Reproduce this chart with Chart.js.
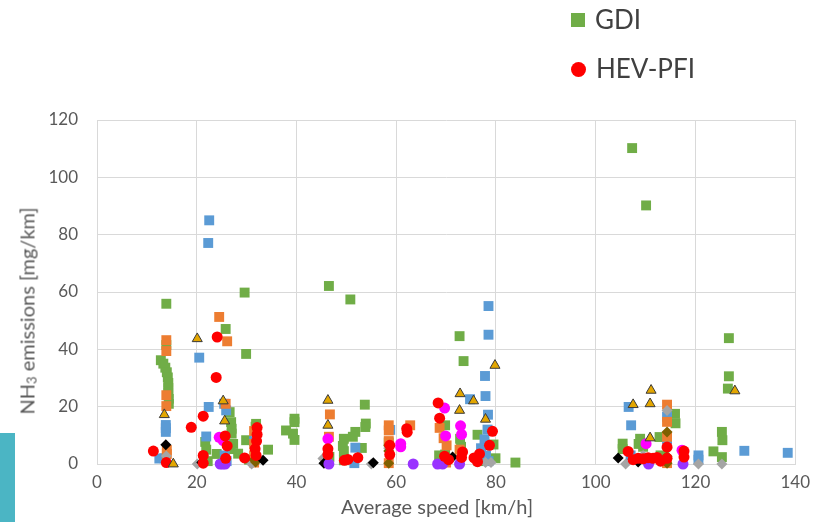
<!DOCTYPE html>
<html>
<head>
<meta charset="utf-8">
<script src="https://cdn.jsdelivr.net/npm/chart.js@4.4.1/dist/chart.umd.min.js"></script>
<style>
  html, body { margin: 0; padding: 0; background: #fff; }
  #wrap { position: relative; width: 818px; height: 522px; overflow: hidden; font-family: Lato, sans-serif; }
  #chart { position: absolute; left: 0; top: 0; }
  .leg { position: absolute; left: 571px; font-size: 26px; color: #404040; line-height: 30px; }
  .leg i { display: inline-block; vertical-align: middle; margin-right: 10px; position: relative; top: -2px; }
  .xt { position: absolute; left: 0; width: 874px; top: 494px; text-align: center; font-size: 20px; color: #595959; }
  .yt { position: absolute; left: 27px; top: 311px; transform: translate(-50%, -50%) rotate(-90deg); white-space: nowrap; font-size: 20px; color: #595959; }
  .yt sub { font-size: 13px; vertical-align: -2px; }
  #tab { position: absolute; left: 0; top: 433px; width: 15px; height: 89px; background: #4bb5c4; }
</style>
</head>
<body>
<div id="wrap">
  <canvas id="chart" width="818" height="522"></canvas>
  <div class="leg" style="top:4px"><i style="width:14px;height:14px;background:#70ad47"></i>GDI</div>
  <div class="leg" style="top:53px"><i style="width:15px;height:15px;border-radius:50%;background:#ff0000"></i>HEV-PFI</div>
  <div class="yt">NH<sub>3</sub> emissions [mg/km]</div>
  <div class="xt">Average speed [km/h]</div>
  <div id="tab"></div>
</div>
<script>
// [speed km/h, NH3 mg/km]
const gdi = [
  [13.9, 55.9], [13.9, 41.5], [12.8, 36.2], [13.3, 35], [13.7, 33.6], [14.0, 32], [14.2, 30.2], [14.3, 28.3],
  [14.3, 26.5], [14.3, 24.8], [14.4, 22.8], [14.4, 21],
  [29.6, 59.8], [25.8, 47.1], [29.9, 38.4], [26.6, 18.1], [26.9, 14.6], [27.0, 12.3], [27.0, 10.6], [27.3, 7.0],
  [26.8, 5.2], [28.3, 3.6], [29.9, 8.3], [21.7, 7.7], [21.9, 5], [22.2, 1], [24.0, 3.5], [31.9, 14.0], [31.8, 13.0],
  [34.3, 5.0], [30.5, 1.5],
  [39.6, 15.8], [39.6, 14.6], [37.9, 11.7], [39.3, 10.6], [39.6, 8.4],
  [46.5, 62.1], [50.8, 57.4], [53.7, 20.7], [53.9, 14.1], [53.8, 12.9], [51.8, 11.2], [51.3, 9.5], [49.5, 8.8],
  [49.3, 6.3], [49.5, 4.5], [49.5, 1.3], [53.1, 5.6], [46.6, 2.5], [58.5, 7.5],
  [72.7, 44.6], [73.5, 35.9], [69.8, 13.5], [72.8, 8.8], [76.3, 10.2], [79.5, 6.8], [68.6, 3.0], [69.8, 3.3],
  [79.9, 2.0], [83.9, 0.5], [73, 6], [76.5, 1],
  [107.3, 110.2], [110.1, 90.2], [115.9, 17.5], [116.0, 14.2], [112.8, 9.4], [108.9, 8.8], [108.6, 7.0],
  [105.4, 7.1], [105.4, 5.2], [109.5, 6], [113, 3],
  [126.7, 43.9], [126.7, 30.6], [126.5, 26.3], [125.3, 11.2], [125.4, 8.3], [123.6, 4.4], [125.3, 2.4]
];
const hevPfi = [
  [11.3, 4.5], [13.9, 0.5], [24.1, 44.3], [23.9, 30.2], [21.3, 16.7], [18.9, 12.8], [25.7, 9.8], [26.1, 6.3],
  [21.3, 3.0], [21.3, 0.3], [25.8, 2.0], [29.6, 2.1], [32.1, 12.7], [32.1, 10.3], [32.0, 8.0], [31.7, 5.3], [31.9, 3],
  [46.3, 5.3], [46.3, 3.3], [49.6, 1.3], [50.3, 1.6], [52.3, 2.2], [58.7, 6.5], [58.7, 3.3], [62.1, 12.3], [62.2, 11.1],
  [68.4, 21.3], [68.7, 16.0], [79.3, 11.4], [78.7, 6.5], [69.7, 2.7], [73.3, 4.2], [73.1, 2.3], [75.6, 2.1],
  [76.7, 3.5], [76.3, 0.8], [70.5, 1.5],
  [106.5, 4.4], [107.5, 1.5], [108.5, 2.0], [109.5, 1.8], [110.5, 2.2], [111.5, 2.0], [112.3, 2.3], [114.3, 5.9],
  [114.3, 2.0], [117.7, 4.5], [117.7, 2.4], [113, 1]
];
const blueSeries = [
  [13.8, 13.6], [13.8, 12.5], [13.8, 11.2], [12.5, 1.9], [13.5, 2.0], [22.5, 85.0], [22.3, 77.1], [20.5, 37.1],
  [22.4, 19.9], [25.5, 21.0], [25.9, 18.7], [21.9, 9.6], [25.6, 3.0], [26, 1], [31.5, 8],
  [51.8, 5.7], [51.6, 0.3], [58.8, 11.9],
  [78.5, 55.1], [78.5, 45.1], [77.8, 30.7], [77.9, 23.7], [74.8, 22.6], [78.4, 17.2], [78.3, 12.0], [77.7, 8.6],
  [77.0, 5.5], [78, 3], [78.5, 1],
  [106.6, 19.9], [107.1, 13.5], [114.3, 16.5], [114.3, 8.5], [120.6, 3.0], [120.6, 1.5], [107, 3],
  [129.8, 4.6], [138.5, 3.9]
];
const orangeSeries = [
  [13.9, 43.2], [13.9, 39.4], [13.9, 24.0], [13.9, 20.2], [14, 4.9], [14, 3.5], [24.5, 51.3], [26.1, 42.8],
  [25.8, 21], [31.5, 11.5], [31.5, 7], [31.5, 3], [31.5, 0.5],
  [46.7, 17.3], [46.5, 9.5], [58.5, 13.5], [58.5, 11.7], [58.5, 8], [58.5, 0.3], [62.8, 13.5],
  [68.7, 12.6], [70.1, 6.5], [72.7, 5.0], [69.5, 9], [70, 0.5],
  [114.3, 20.7], [114.3, 14.7], [114.3, 9.5], [114.3, 0.3]
];
const triangleSeries = [
  [13.5, 17.2], [15.3, 0], [20.1, 43.7], [25.3, 22.0], [25.6, 15.0], [46.3, 22.2], [46.3, 13.5], [72.8, 24.5],
  [75.5, 22.0], [72.7, 18.7], [79.8, 34.4], [77.9, 15.6], [111.1, 25.7], [107.5, 20.7], [110.9, 21.0],
  [110.9, 9.1], [127.9, 25.5]
];
const blackDiamonds = [[13.8, 6.7], [21, 0.5], [33.3, 1.3], [45.5, 0.3], [55.4, 0.4], [71.3, 2.4], [104.5, 2.1], [108.5, 0.7]];
const grayDiamonds = [
  [13.9, 2.8], [20.1, 0], [31, 0], [45.3, 1.9], [55, 0], [58.5, 5.5], [77.9, 0.5], [79, 0.5], [106, 0],
  [109.5, 3], [114.3, 18.7], [120.6, 0], [125.3, 0]
];
const magentaSeries = [
  [24.5, 9.3], [25.3, 8.2], [46.3, 8.8], [60.9, 7.1], [60.9, 6.0], [69.7, 19.5], [69.9, 9.8], [72.9, 13.3],
  [73.1, 10.3], [110.1, 7.1], [117.3, 4.8]
];
const purpleSeries = [[24.7, 0], [25.2, 0], [25.7, 0], [46.5, 0], [63.4, 0], [68.3, 0], [69.3, 0], [72.7, 0], [110.6, 0], [117.5, 0]];
const brownDiamonds = [
  [31.8, 0.7], [31.5, 1.5], [58.5, 6.5], [58.5, 4.5], [58.5, 0.3], [69.8, 0.5], [114.3, 11.2], [114.3, 5.6],
  [114.3, 2.7], [114.3, 0.3]
];

const xTicks = [0, 20, 40, 60, 80, 100, 120, 140];
const yTicks = [0, 20, 40, 60, 80, 100, 120];

const toPts = (arr) => arr.map(p => ({ x: p[0], y: p[1] }));

const series = (label, data, style, order) => Object.assign({
  label: label,
  data: toPts(data),
  showLine: false,
  clip: false,
  borderWidth: 0,
  order: order,
}, style);

const ctx = document.getElementById('chart');
new Chart(ctx, {
  type: 'scatter',
  data: {
    datasets: [
      series('triangles', triangleSeries, { pointStyle: 'triangle', pointRadius: 5.8, backgroundColor: '#e3a600', borderColor: '#3a3a3a', borderWidth: 1 }, 1),
      series('HEV-PFI', hevPfi, { pointStyle: 'circle', pointRadius: 5.5, backgroundColor: '#ff0000' }, 2),
      series('magenta', magentaSeries, { pointStyle: 'circle', pointRadius: 5.5, backgroundColor: '#ff00ff' }, 3),
      series('purple', purpleSeries, { pointStyle: 'circle', pointRadius: 5.5, backgroundColor: '#9933ff' }, 3),
      series('black', blackDiamonds, { pointStyle: 'rectRot', pointRadius: 5.5, backgroundColor: '#000000' }, 4),
      series('brown', brownDiamonds, { pointStyle: 'rectRot', pointRadius: 5.5, backgroundColor: '#7f6000' }, 4),
      series('gray', grayDiamonds, { pointStyle: 'rectRot', pointRadius: 5.5, backgroundColor: '#a5a5a5' }, 5),
      series('orange', orangeSeries, { pointStyle: 'rect', pointRadius: 7, backgroundColor: '#ed7d31' }, 6),
      series('blue', blueSeries, { pointStyle: 'rect', pointRadius: 7, backgroundColor: '#5b9bd5' }, 7),
      series('GDI', gdi, { pointStyle: 'rect', pointRadius: 7, backgroundColor: '#70ad47' }, 8),
    ],
  },
  options: {
    responsive: false,
    animation: false,
    layout: { padding: { top: 120, right: 21, left: 0, bottom: 0 } },
    plugins: { legend: { display: false }, tooltip: { enabled: false } },
    elements: { point: { hoverRadius: 0 } },
    scales: {
      x: {
        type: 'linear',
        min: 0,
        max: 140,
        afterFit: (scale) => { scale.height = 58; },
        afterBuildTicks: (scale) => { scale.ticks = xTicks.map(v => ({ value: v })); },
        grid: { color: '#d9d9d9', drawTicks: false },
        border: { color: '#d9d9d9' },
        ticks: { color: '#595959', font: { family: 'Lato', size: 17 }, padding: 8, maxRotation: 0 },
      },
      y: {
        min: 0,
        max: 120,
        afterFit: (scale) => { scale.width = 97; },
        afterBuildTicks: (scale) => { scale.ticks = yTicks.map(v => ({ value: v })); },
        grid: { color: '#d9d9d9', drawTicks: false },
        border: { color: '#d9d9d9' },
        ticks: { color: '#595959', font: { family: 'Lato', size: 17 }, padding: 19 },
      },
    },
  },
});
</script>
</body>
</html>
